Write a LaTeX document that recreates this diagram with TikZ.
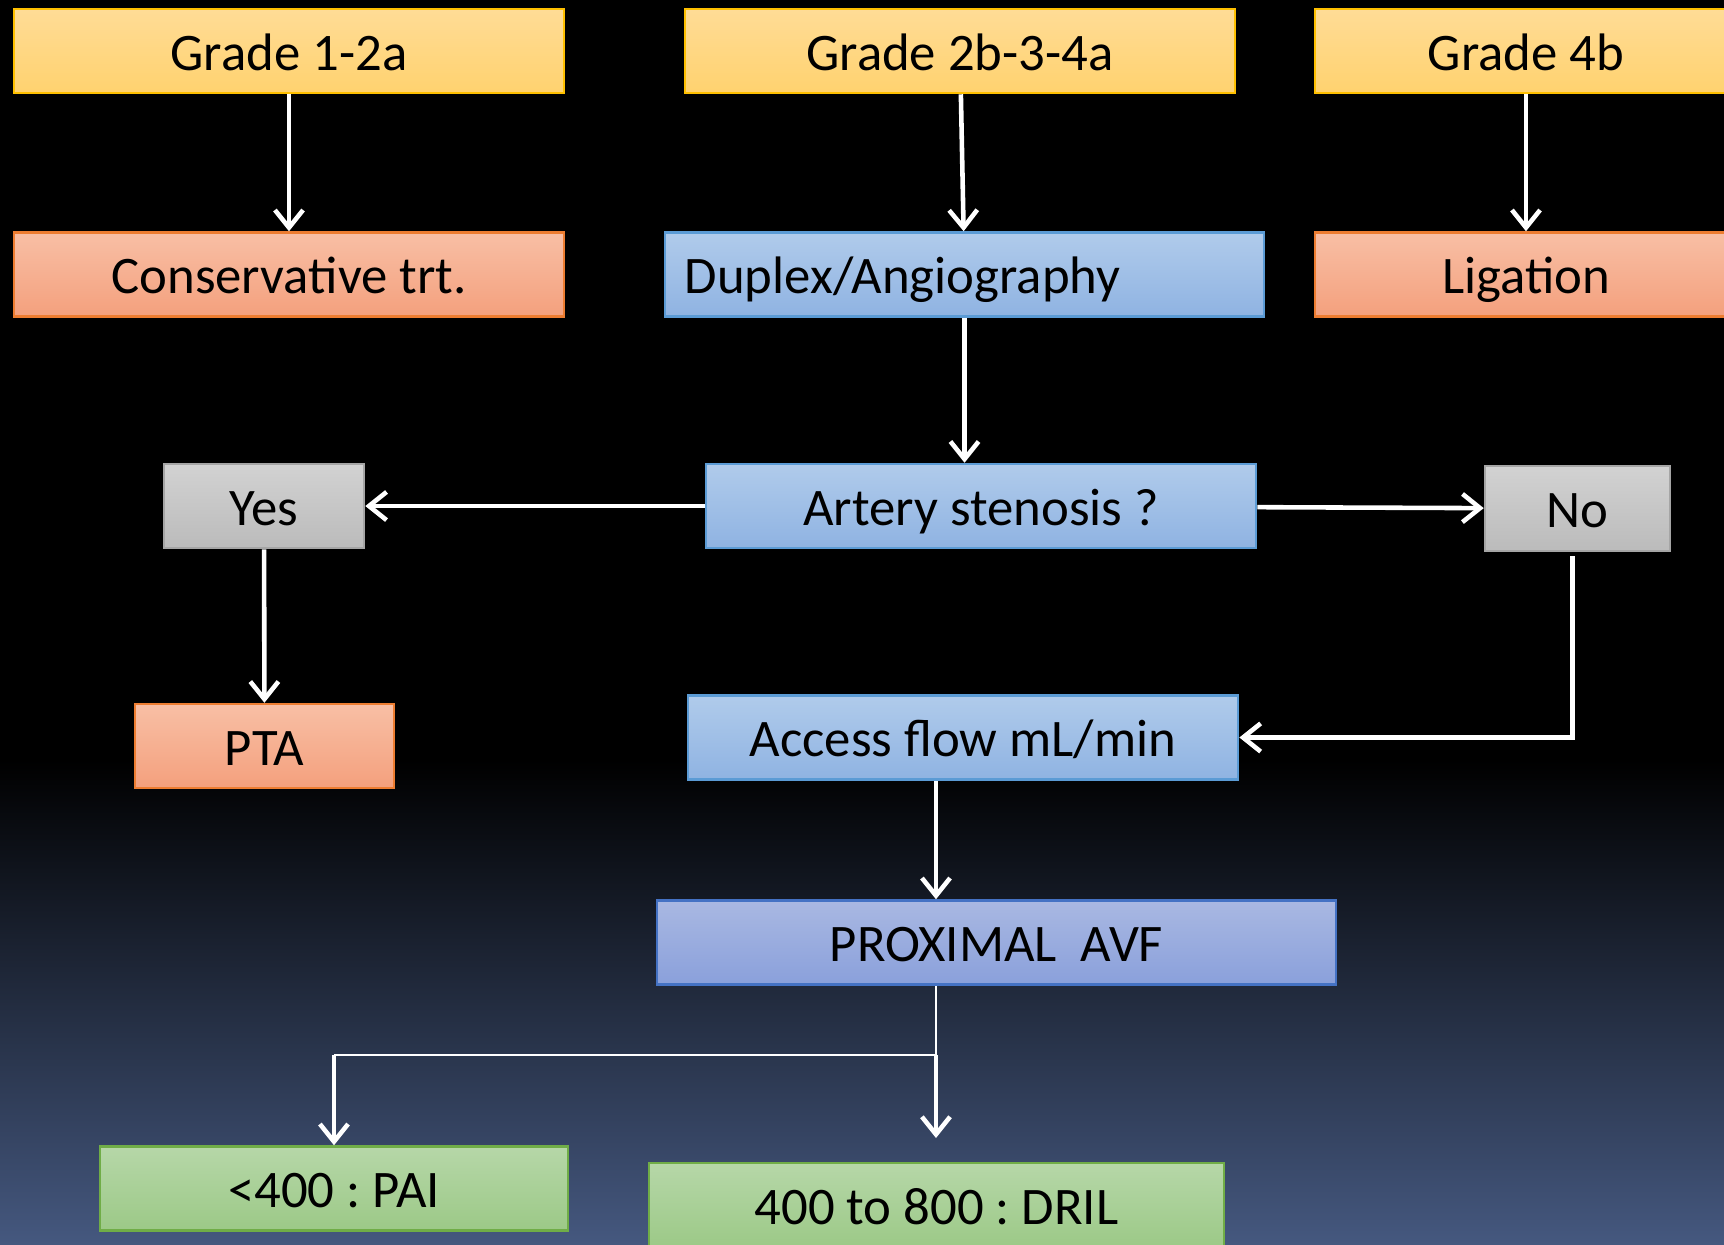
\documentclass[tikz,border=0pt]{standalone}
\usepackage{fontspec}
\setmainfont{Carlito}
\usepackage{tikz}
\usetikzlibrary{arrows,arrows.meta}
\frenchspacing

\definecolor{bgblue}{HTML}{45587F}
\definecolor{gradetop}{HTML}{FFDC96}
\definecolor{gradebot}{HTML}{FFD26F}
\definecolor{gradeline}{HTML}{FFC000}
\definecolor{salmontop}{HTML}{F8BFA5}
\definecolor{salmonbot}{HTML}{F4A07D}
\definecolor{salmonline}{HTML}{ED7D31}
\definecolor{bluetop}{HTML}{B0CBEB}
\definecolor{bluebot}{HTML}{8FB3E2}
\definecolor{blueline}{HTML}{5B9BD5}
\definecolor{graytop}{HTML}{D2D2D2}
\definecolor{graybot}{HTML}{BBBBBB}
\definecolor{grayline}{HTML}{A5A5A5}
\definecolor{proxtop}{HTML}{A9B8E2}
\definecolor{proxbot}{HTML}{8AA0DB}
\definecolor{proxline}{HTML}{4472C4}
\definecolor{greentop}{HTML}{B6D7A8}
\definecolor{greenbot}{HTML}{9CC987}
\definecolor{greenline}{HTML}{70AD47}

\tikzset{
  box/.style={draw, line width=0.7pt, minimum height=0.84cm, inner sep=0pt,
    text height=0.48cm, text depth=0.1cm, text=black, font=\fontsize{15}{18}\selectfont},
  gradebox/.style={box, draw=gradeline, top color=gradetop, bottom color=gradebot, minimum width=5.5cm},
  salmonbox/.style={box, draw=salmonline, top color=salmontop, bottom color=salmonbot},
  bluebox/.style={box, draw=blueline, top color=bluetop, bottom color=bluebot},
  graybox/.style={box, draw=grayline, top color=graytop, bottom color=graybot},
  proxbox/.style={box, draw=proxline, top color=proxtop, bottom color=proxbot},
  greenbox/.style={box, draw=greenline, top color=greentop, bottom color=greenbot},
  arrow/.style={-{Straight Barb[length=5pt,width=8pt]}, color=white, line width=1.3pt},
  thinline/.style={color=white, line width=0.7pt}
}

\begin{document}
\begin{tikzpicture}[x=0.01cm, y=-0.01cm]

\useasboundingbox (0,0) rectangle (1724,1244);
\clip (0,0) rectangle (1724,1244);

\fill [color=black] (0,0) rectangle (1724,1244);
\shade [top color=black, bottom color=bgblue] (0,760) rectangle (1724,1244);

% grades
\node [gradebox] (g12) at (289,51) {Grade 1-2a};
\node [gradebox] (g234) at (960,51) {Grade 2b-3-4a};
\node [gradebox, minimum width=4.22cm] (g4b) at (1526,51) {Grade 4b};

\node [salmonbox, minimum width=5.5cm] (cons) at (289,274.5) {Conservative trt.};
\node [bluebox, minimum width=5.99cm, text width=5.59cm, align=left] (duplex) at (964.5,274.5) {Duplex/Angiography};
\node [salmonbox, minimum width=4.22cm] (lig) at (1526,274.5) {Ligation};

\node [graybox, minimum width=2cm] (yes) at (264,506) {Yes};
\node [bluebox, minimum width=5.5cm] (artery) at (981,506) {Artery stenosis ?};
\node [graybox, minimum width=1.85cm, minimum height=0.85cm] (no) at (1577.5,508.5) {No};

\node [salmonbox, minimum width=2.59cm] (pta) at (264.5,746) {PTA};
\node [bluebox, minimum width=5.5cm] (flow) at (963,737.5) {Access flow mL/min};

\node [proxbox, minimum width=6.79cm] (prox) at (996.5,942.5) {PROXIMAL\ \ AVF};

\node [greenbox, minimum width=4.68cm] (pai) at (334,1188.5) {<400 : PAI};
\node [greenbox, minimum width=5.75cm] (dril) at (936.5,1205) {400 to 800 : DRIL};

\coordinate (split) at (936,1055);
\coordinate (drilin) at (936,1138);

\draw [arrow] (g12) -- (cons);
\draw [arrow] (g234) -- (duplex);
\draw [arrow] (g4b) -- (lig);
\draw [arrow] (duplex.south) -- (duplex.south |- artery.north);
\draw [arrow] (artery) -- (yes);
\draw [arrow] (artery) -- (no);
\draw [arrow] (yes) -- (pta);
\draw [arrow] ([xshift=-0.05cm,yshift=-0.04cm]no.south) |- (flow.east);
\draw [arrow] (flow.south -| split) -- (split |- prox.north);

\draw [thinline] (prox.south -| split) -- (split);
\draw [thinline] (split) -- (split -| pai);
\draw [arrow] (split -| pai) -- (pai.north);
\draw [arrow] (split) -- (drilin);

\end{tikzpicture}
\end{document}
